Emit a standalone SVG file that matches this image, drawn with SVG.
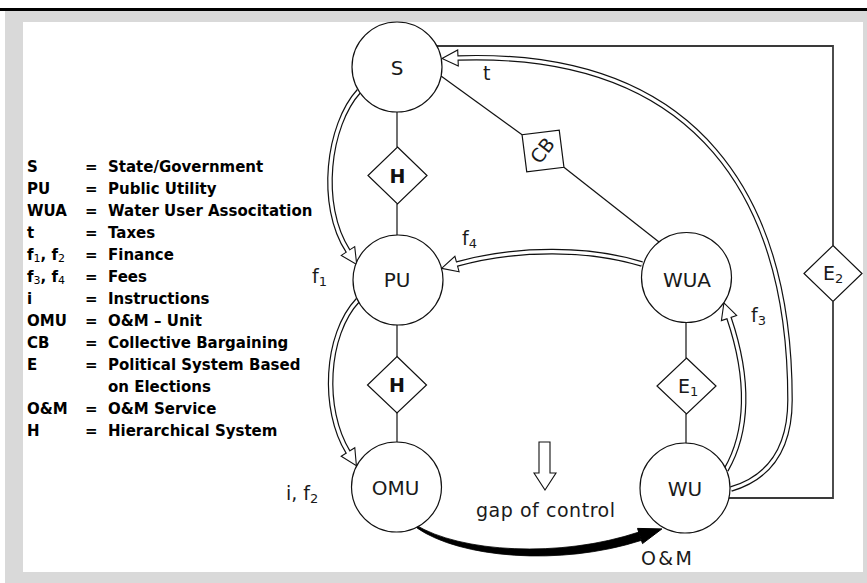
<svg xmlns="http://www.w3.org/2000/svg" width="867" height="583" viewBox="0 0 867 583">
  <style>
    .node { fill: #fff; stroke: #111; stroke-width: 1.2; }
    .link { fill: none; stroke: #111; stroke-width: 1.2; }
    .frame { fill: none; stroke: #3a3a3a; stroke-width: 1.8; }
    .dbl-out { fill: none; stroke: #111; stroke-width: 5.6; }
    .dbl-in { fill: none; stroke: #fff; stroke-width: 3.2; }
    .head { fill: #fff; stroke: #111; stroke-width: 1.1; stroke-linejoin: miter; }
    .lbl { font-family: "DejaVu Sans", Verdana, sans-serif; font-size: 19px; fill: #1a1a1a; }
    .name { font-size: 20px; }
    .lblb { font-family: "DejaVu Sans", Verdana, sans-serif; font-size: 19px; font-weight: bold; fill: #111; }
    .sub { font-size: 13px; }
    .leg { font-family: "DejaVu Sans", Verdana, sans-serif; font-size: 15px; font-weight: bold; fill: #000; }
    .legsub { font-size: 11px; font-weight: normal; }
  </style>

  <!-- page frame -->
  <rect x="0" y="0" width="867" height="583" fill="#fff"/>
  <rect x="0" y="8" width="867" height="3" fill="#000"/>
  <rect x="5" y="11" width="862" height="572" fill="#d9d9d9"/>
  <rect x="23" y="22" width="840" height="550" fill="#fff"/>

  <!-- legend -->
  <g id="legend" class="leg">
    <text x="27" y="172">S</text><text x="85" y="172">=</text><text x="108" y="172">State/Government</text>
    <text x="27" y="194">PU</text><text x="85" y="194">=</text><text x="108" y="194">Public Utility</text>
    <text x="27" y="216">WUA</text><text x="85" y="216">=</text><text x="108" y="216">Water User Associtation</text>
    <text x="27" y="238">t</text><text x="85" y="238">=</text><text x="108" y="238">Taxes</text>
    <text x="27" y="260">f<tspan class="legsub" dy="2">1</tspan><tspan dy="-2">, f</tspan><tspan class="legsub" dy="2">2</tspan></text><text x="85" y="260">=</text><text x="108" y="260">Finance</text>
    <text x="27" y="282">f<tspan class="legsub" dy="2">3</tspan><tspan dy="-2">, f</tspan><tspan class="legsub" dy="2">4</tspan></text><text x="85" y="282">=</text><text x="108" y="282">Fees</text>
    <text x="27" y="304">i</text><text x="85" y="304">=</text><text x="108" y="304">Instructions</text>
    <text x="27" y="326">OMU</text><text x="85" y="326">=</text><text x="108" y="326">O&amp;M – Unit</text>
    <text x="27" y="348">CB</text><text x="85" y="348">=</text><text x="108" y="348">Collective Bargaining</text>
    <text x="27" y="370">E</text><text x="85" y="370">=</text><text x="108" y="370">Political System Based</text>
    <text x="108" y="392">on Elections</text>
    <text x="27" y="414">O&amp;M</text><text x="85" y="414">=</text><text x="108" y="414">O&amp;M Service</text>
    <text x="27" y="436">H</text><text x="85" y="436">=</text><text x="108" y="436">Hierarchical System</text>
  </g>

  <!-- connectors -->
  <g id="connectors">
    <!-- plain links between nodes -->
    <line class="link" x1="397" y1="112" x2="397" y2="147"/>
    <line class="link" x1="397" y1="204" x2="397" y2="235"/>
    <line class="link" x1="397" y1="325" x2="397" y2="357"/>
    <line class="link" x1="397" y1="413" x2="397" y2="443"/>
    <line class="link" x1="686" y1="322" x2="686" y2="358"/>
    <line class="link" x1="686" y1="414" x2="686" y2="444"/>
    <line class="link" x1="441" y1="76" x2="522.1" y2="134.8"/>
    <line class="link" x1="563.9" y1="167.2" x2="659" y2="242"/>
    <!-- election loop S - E2 - WU -->
    <polyline class="frame" points="437,46 833,46 833,245.5"/>
    <polyline class="frame" points="833,301.5 833,498 729,498"/>

    <!-- f1: S to PU -->
    <path class="dbl-out" d="M359 91 C328 125 318 205 348 251"/>
    <polygon class="head" points="354.7,246.6 356.7,264.4 341.3,255.4"/>
    <path class="dbl-in" d="M359 91 C328 125 318 205 348 251 L349.6 253.6"/>

    <!-- i, f2: PU to OMU -->
    <path class="dbl-out" d="M358 300 C325 335 322 410 348 452"/>
    <polygon class="head" points="354.8,447.8 356.4,465.6 341.2,456.2"/>
    <path class="dbl-in" d="M358 300 C325 335 322 410 348 452 L349.6 454.6"/>

    <!-- f4: WUA to PU -->
    <path class="dbl-out" d="M642 264 C590 248 518 247 457 264"/>
    <polygon class="head" points="459.1,271.7 441.6,268.3 454.9,256.3"/>
    <path class="dbl-in" d="M642 264 C590 248 518 247 457 264 L454.2 264.8"/>

    <!-- f3: WU to WUA -->
    <path class="dbl-out" d="M726 470 C748 432 750 380 729 318"/>
    <polygon class="head" points="736.6,315.4 723.9,302.8 721.4,320.6"/>
    <path class="dbl-in" d="M726 470 C748 432 750 380 729 318 L728 315.2"/>

    <!-- t: WU to S -->
    <path class="dbl-out" d="M731 489 C768 478 790 450 790 400 C790 200 700 50 458 58"/>
    <polygon class="head" points="458.3,66 442,58.5 457.7,50"/>
    <path class="dbl-in" d="M731 489 C768 478 790 450 790 400 C790 200 700 50 458 58 L455 58.1"/>

    <!-- O&M service: OMU to WU, a tapering band -->
    <path d="M415 524.5 C460 552.5 560 558.5 639 532 L641 540.5 C560 566.5 460 558 417 528 Z" fill="#000" stroke="#000" stroke-width="0.8"/>
    <polygon points="642.5,543.6 661.9,528.9 637.5,528.4" fill="#000" stroke="#000" stroke-width="1"/>

    <!-- gap of control -->
    <polygon class="head" points="539,442 550,442 550,473 556,473 545,490 534,473 539,473"/>
  </g>

  <!-- nodes -->
  <g id="node-s"><circle class="node" cx="397" cy="67" r="45"/><text class="lbl name" x="397" y="75" text-anchor="middle">S</text></g>
  <g id="node-pu"><circle class="node" cx="398" cy="280" r="45"/><text class="lbl name" x="397" y="287" text-anchor="middle">PU</text></g>
  <g id="node-wua"><circle class="node" cx="686.5" cy="277.5" r="45"/><text class="lbl name" x="687" y="287" text-anchor="middle">WUA</text></g>
  <g id="node-omu"><circle class="node" cx="396.5" cy="487" r="45"/><text class="lbl name" x="395.5" y="495" text-anchor="middle">OMU</text></g>
  <g id="node-wu"><circle class="node" cx="685" cy="488" r="45"/><text class="lbl name" x="685" y="496" text-anchor="middle">WU</text></g>

  <g id="node-h1"><polygon class="node" points="397.5,147 427,175.5 397.5,204 368,175.5"/><text class="lblb" x="397.5" y="182.5" text-anchor="middle">H</text></g>
  <g id="node-h2"><polygon class="node" points="397,356.5 426.5,385 397,413 367.5,385"/><text class="lblb" x="397" y="392" text-anchor="middle">H</text></g>
  <g id="node-e1"><polygon class="node" points="686.5,358 716,386 686.5,414 657,386"/><text class="lbl" x="678" y="393">E<tspan class="sub" dy="3">1</tspan></text></g>
  <g id="node-e2"><polygon class="node" points="833,245.5 862,273.5 833,301.5 804,273.5"/><text class="lbl" x="823" y="280">E<tspan class="sub" dy="3">2</tspan></text></g>
  <g id="node-cb" transform="translate(543 151) rotate(-52.2)"><polygon class="node" points="-26.5,0 0,-26.5 26.5,0 0,26.5"/><text class="lbl" x="0" y="6" text-anchor="middle" font-size="16">CB</text></g>

  <!-- flow labels -->
  <g id="labels" class="lbl">
    <text x="483" y="80">t</text>
    <text x="462" y="245">f<tspan class="sub" dy="3">4</tspan></text>
    <text x="312" y="283">f<tspan class="sub" dy="3">1</tspan></text>
    <text x="751" y="322">f<tspan class="sub" dy="3">3</tspan></text>
    <text x="286" y="500">i, f<tspan class="sub" dy="3">2</tspan></text>
    <text x="476" y="517" textLength="139">gap of control</text>
    <text x="641" y="565" textLength="51">O&amp;M</text>
  </g>
</svg>
